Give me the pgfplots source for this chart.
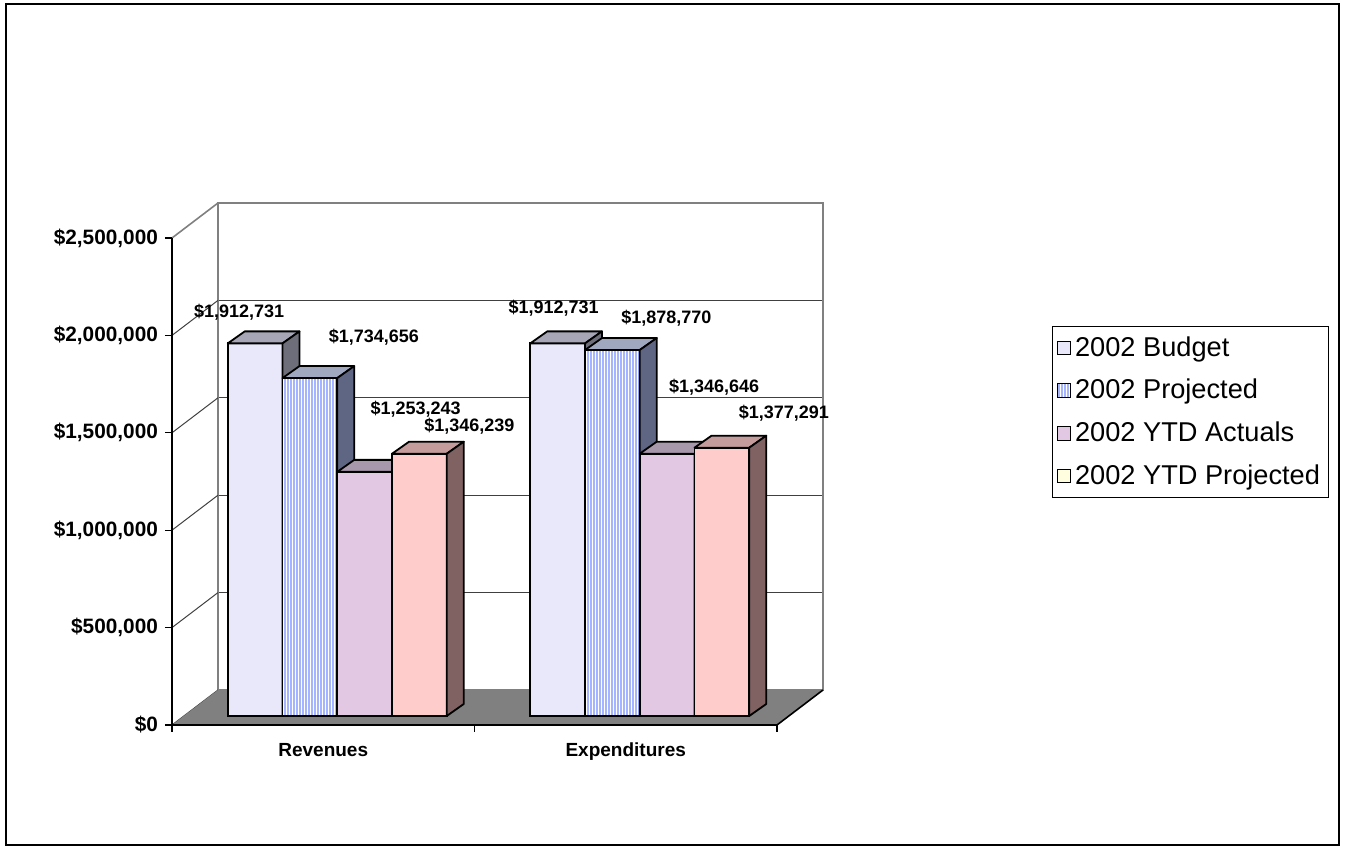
\documentclass[border=0pt]{standalone}
\usepackage{fontspec}
\setmainfont{Liberation Sans}
\usepackage{pgfplots}
\usepackage{pgfplotstable}
\pgfplotsset{compat=1.18}
\usetikzlibrary{patterns.meta}

\definecolor{budgetF}{HTML}{E8E8FA}
\definecolor{budgetT}{HTML}{A6A6B6}
\definecolor{budgetS}{HTML}{6E6E7A}
\definecolor{projL}{HTML}{A4B4FF}
\definecolor{projT}{HTML}{A0A8C0}
\definecolor{projS}{HTML}{5E6684}
\definecolor{actF}{HTML}{E2C8E2}
\definecolor{actT}{HTML}{A898AC}
\definecolor{actS}{HTML}{7A6A80}
\definecolor{ytdF}{HTML}{FFCCCC}
\definecolor{ytdT}{HTML}{C49C9C}
\definecolor{ytdS}{HTML}{806262}
\definecolor{ytdLeg}{HTML}{FFFFE0}
\definecolor{floorC}{HTML}{808080}

% x: 0 = Revenues, 1 = Expenditures; lx, ly = label offset from bar top in px (ly upwards)
\pgfplotstableread{
x val lx ly
0 1912731 -16 31
1 1912731 -4 35
}\budget
\pgfplotstableread{
x val lx ly
0 1734656 64 41
1 1878770 54 32
}\projected
\pgfplotstableread{
x val lx ly
0 1253243 51 63
1 1346646 47 66
}\actuals
\pgfplotstableread{
x val lx ly
0 1346239 50 28
1 1377291 62 34
}\ytdproj

\pgfdeclareplotmark{nothing}{}

\pgfplotsset{
  panel/.style={scale only axis, width=302.5pt, height=243.5pt,
    xmin=-0.5, xmax=1.5, ymin=0, ymax=2500000, scaled y ticks=false},
  front/.style={ybar, bar width=27.375pt, bar shift=#1, draw=black, line width=0.9pt,
    visualization depends on={\thisrow{lx}\as\labdx},
    visualization depends on={\thisrow{ly}\as\labdy},
    nodes near coords={\$\pgfmathprintnumber[fixed, precision=0, 1000 sep={,}, assume math mode=true]{\pgfplotspointmeta}},
    every node near coord/.append style={font=\bfseries\fontsize{9}{10}\selectfont, text=black,
      anchor=center, xshift={\labdx*0.5pt+#1}, yshift=\labdy*0.5pt},
    legend image code/.code={\draw[##1, line width=0.5pt] (0pt,-3.4pt) rectangle (6.8pt,3.4pt);}},
  faces/.style n args={3}{forget plot, scatter, only marks, mark=nothing,
    visualization depends on={\thisrow{val}/1000000\as\barval},
    scatter/@pre marker code/.code={%
      \filldraw[fill=#2, draw=black, line width=0.9pt, line join=round]
        (#1-13.6875pt,0pt) -- (#1+13.6875pt,0pt) -- (#1+22.1875pt,6pt) -- (#1-5.1875pt,6pt) -- cycle;
      \filldraw[fill=#3, draw=black, line width=0.9pt, line join=round]
        (#1+13.6875pt,0pt) -- (#1+22.1875pt,6pt) -- (#1+22.1875pt,{6pt-\barval*97.4pt}) -- (#1+13.6875pt,{-\barval*97.4pt}) -- cycle;
    },
    scatter/@post marker code/.code={}},
}

\begin{document}
\begin{tikzpicture}
\path (0,0) rectangle (672.5pt,424.5pt);
\draw[black, line width=1pt] (3pt,2pt) rectangle (669.5pt,422.5pt);

% back wall
\begin{axis}[panel, at={(109pt,79.5pt)}, anchor=south west,
  xtick=\empty, ytick={500000,1000000,1500000,2000000}, yticklabels={},
  major tick length=0pt, ymajorgrids, grid style={black!75, line width=0.5pt},
  axis line style={floorC, line width=0.8pt}]
\addplot[draw=none] coordinates {(0,0)};
\end{axis}

% side wall and floor
\foreach \k in {0,...,4}
  \draw[black!75, line width=0.5pt] (86pt,{62pt+\k*48.7pt}) -- (109pt,{79.5pt+\k*48.7pt});
\draw[floorC, line width=0.8pt] (86pt,305.5pt) -- (109pt,323pt);
\fill[floorC] (86pt,62pt) -- (388.5pt,62pt) -- (411.5pt,79.5pt) -- (109pt,79.5pt) -- cycle;
\draw[black, line width=0.8pt] (86pt,62pt) -- (388.5pt,62pt) -- (411.5pt,79.5pt);

% front axis with ticks and labels
\begin{axis}[panel, at={(86pt,62pt)}, anchor=south west,
  axis x line*=bottom, axis y line*=left, axis line style={black, line width=0.8pt},
  tick align=outside, tick style={black, line width=0.6pt}, major tick length=3.5pt,
  xtick={-0.5,0.5,1.5}, xticklabels={},
  extra x ticks={0,1}, extra x tick labels={Revenues,Expenditures},
  extra x tick style={major tick length=0pt,
    xticklabel style={font=\bfseries\fontsize{9.5}{11}\selectfont, anchor=base, yshift=-16pt}},
  ytick={0,500000,1000000,1500000,2000000,2500000},
  yticklabels={{\$0},{\$500,000},{\$1,000,000},{\$1,500,000},{\$2,000,000},{\$2,500,000}},
  yticklabel style={font=\bfseries\fontsize{10.4}{12}\selectfont}]
\addplot[draw=none] coordinates {(0,0)};
\end{axis}

% bars: front faces, then top and side faces, series by series
\begin{axis}[panel, at={(93pt,66.5pt)}, anchor=south west, hide axis, clip=false,
  clip marker paths=true,
  legend style={at={(1.4314,0.8008)}, anchor=north west, draw=black, line width=0.5pt,
    font=\fontsize{13.6}{15}\selectfont, inner xsep=2pt, inner ysep=3pt, row sep=6pt},
  legend cell align=left]
\addplot[front=-41.0625pt, fill=budgetF] table[x=x, y=val] {\budget};
\addlegendentry{2002 Budget}
\addplot[faces={-41.0625pt}{budgetT}{budgetS}] table[x=x, y=val] {\budget};
\addplot[front=-13.6875pt, fill=white,
  postaction={pattern={Lines[angle=90, distance=1.5pt, line width=0.55pt]}, pattern color=projL}]
  table[x=x, y=val] {\projected};
\addlegendentry{2002 Projected}
\addplot[faces={-13.6875pt}{projT}{projS}] table[x=x, y=val] {\projected};
\addplot[front=13.6875pt, fill=actF] table[x=x, y=val] {\actuals};
\addlegendentry{2002 YTD Actuals}
\addplot[faces={13.6875pt}{actT}{actS}] table[x=x, y=val] {\actuals};
\addplot[front=41.0625pt, fill=ytdF,
  legend image code/.code={\draw[fill=ytdLeg, draw=black, line width=0.5pt] (0pt,-3.4pt) rectangle (6.8pt,3.4pt);}]
  table[x=x, y=val] {\ytdproj};
\addlegendentry{2002 YTD Projected}
\addplot[faces={41.0625pt}{ytdT}{ytdS}] table[x=x, y=val] {\ytdproj};
\end{axis}
\end{tikzpicture}
\end{document}
